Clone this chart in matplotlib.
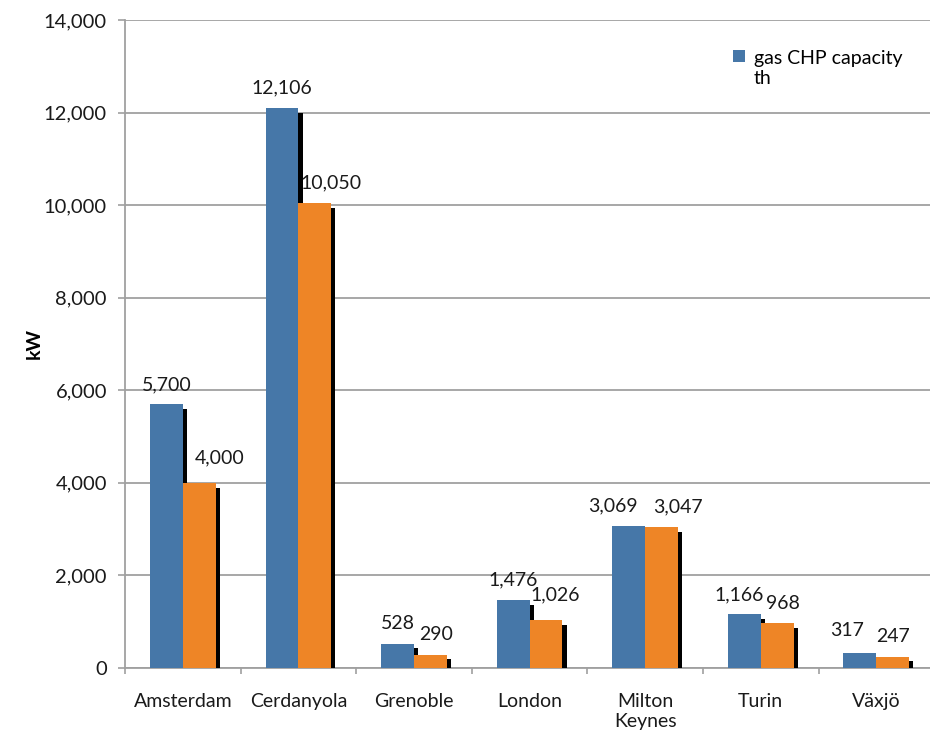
import matplotlib
matplotlib.use("Agg")
import matplotlib.pyplot as plt
import matplotlib.patheffects as pe
from matplotlib.legend_handler import HandlerPatch
from matplotlib.patches import Rectangle
import numpy as np

plt.rcParams['font.family'] = ['Lato', 'DejaVu Sans']

cities = ["Amsterdam", "Cerdanyola", "Grenoble", "London", "Milton\nKeynes", "Turin", "Växjö"]
gas_chp_el = [5700, 12106, 528, 1476, 3069, 1166, 317]
gas_chp_th = [4000, 10050, 290, 1026, 3047, 968, 247]
legend_label = "gas CHP capacity\nth"
y_ticks = [0, 2000, 4000, 6000, 8000, 10000, 12000, 14000]

# manual nudges (points) for the value labels so neighbours don't collide
el_nudge = [(0, 0), (0, 0), (0, 0), (0, 0), (-11, 0), (-4, 0), (-9, 2)]
th_nudge = [(15, 4), (12, 0), (4, 0), (7, 4), (12, 0), (4, 0), (0, 0)]

blue = "#4677A8"
orange = "#EE8526"
grid_gray = "#A0A0A0"
text_col = "#1a1a1a"
fs = 14

fig = plt.figure(figsize=(9.3, 7.35), dpi=100)
ax = fig.add_axes([0.1344, 0.0912, 0.870, 0.8816])

x = np.arange(len(cities))
w = 0.284
shadow = [pe.SimplePatchShadow(offset=(3, -3.5), shadow_rgbFace="black", alpha=1.0), pe.Normal()]

b1 = ax.bar(x - w / 2, gas_chp_el, width=w, color=blue, zorder=3)
b2 = ax.bar(x + w / 2, gas_chp_th, width=w, color=orange, zorder=3)
for bars in (b1, b2):
    for p in bars:
        p.set_path_effects(shadow)

fmt = lambda v: f"{v:,.0f}"
for bars, vals, nudges in ((b1, gas_chp_el, el_nudge), (b2, gas_chp_th, th_nudge)):
    for p, v, (dx, dy) in zip(bars, vals, nudges):
        ax.annotate(fmt(v), (p.get_x() + p.get_width() / 2, v),
                    xytext=(dx, 8 + dy), textcoords="offset points",
                    ha="center", va="bottom", fontsize=fs, color=text_col, zorder=5)

ax.set_xlim(-0.5, len(cities) - 0.5)
ax.set_ylim(0, 14000)
ax.set_yticks(y_ticks)
ax.set_yticklabels([fmt(v) for v in y_ticks], fontsize=14.5, color=text_col)
ax.yaxis.grid(True, color=grid_gray, linewidth=1.3, zorder=0)
ax.set_axisbelow(True)

ax.set_xticks(x)
ax.set_xticklabels(cities, fontsize=fs, color=text_col, linespacing=1.2)
ax.set_xticks(np.arange(len(cities) + 1) - 0.5, minor=True)
ax.tick_params(axis="x", which="major", length=0, pad=18)
ax.tick_params(axis="x", which="minor", length=4, color=grid_gray, width=1.2, direction="out")
ax.tick_params(axis="y", length=5, color=grid_gray, width=1.2, pad=8)

for s in ("top", "right"):
    ax.spines[s].set_visible(False)
for s in ("left", "bottom"):
    ax.spines[s].set_color(grid_gray)
    ax.spines[s].set_linewidth(1.3)

ax.set_ylabel("kW", fontsize=fs, fontweight="bold", labelpad=1)


def top_square(legend, orig_handle, xdescent, ydescent, width, height, fontsize):
    # keep the key square level with the first line of the wrapped label
    return Rectangle((-xdescent, -ydescent + 0.67 * fontsize), width, height)


leg = ax.legend(handles=[b1.patches[0]], labels=[legend_label],
                loc="upper left", bbox_to_anchor=(0.73, 0.98), frameon=False, fontsize=fs,
                handlelength=0.6, handleheight=0.6, handletextpad=0.45, labelspacing=0.3,
                handler_map={Rectangle: HandlerPatch(patch_func=top_square)})
for h in leg.get_patches():
    h.set_path_effects([])

fig.savefig("out.png", dpi=100)
